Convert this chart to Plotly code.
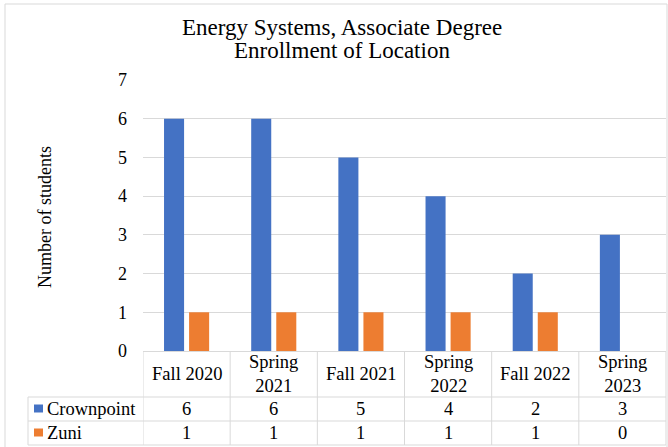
import plotly.graph_objects as go

title_lines = ["Energy Systems, Associate Degree", "Enrollment of Location"]
y_title = "Number of students"
categories = ["Fall 2020", "Spring 2021", "Fall 2021", "Spring 2022", "Fall 2022", "Spring 2023"]
header_labels = ["Fall 2020", "Spring<br>2021", "Fall 2021", "Spring<br>2022", "Fall 2022", "Spring<br>2023"]
series_names = ["Crownpoint", "Zuni"]
crownpoint = [6, 6, 5, 4, 2, 3]
zuni = [1, 1, 1, 1, 1, 0]
colors = ["#4472C4", "#ED7D31"]

W, H = 668, 447
L, R, T, B = 143, 2, 80, 96
PW = W - L - R
PH = H - T - B
FONT = "Times New Roman, Liberation Serif, Times, serif"
GRID = "#d9d9d9"
TXT = "#000000"

def fx(p):
    return (p - L) / PW

def fy(p):
    return (H - B - p) / PH

fig = go.Figure()
series_vals = [crownpoint, zuni]
for name, vals, col in zip(series_names, series_vals, colors):
    fig.add_trace(go.Bar(x=list(range(len(categories))), y=vals, name=name,
                         marker=dict(color=col, line=dict(width=0)),
                         showlegend=False, hoverinfo="skip"))

shapes = []
annotations = []

# chart border
shapes.append(dict(type="rect", xref="paper", yref="paper", x0=fx(5), x1=fx(667), y0=fy(452), y1=fy(4),
                   line=dict(color=GRID, width=1), layer="below"))

# table horizontal lines
for yy in [397, 421, 445]:
    shapes.append(dict(type="line", xref="paper", yref="paper", x0=fx(28), x1=fx(666), y0=fy(yy), y1=fy(yy),
                       line=dict(color=GRID, width=1)))
# left border of series rows
shapes.append(dict(type="line", xref="paper", yref="paper", x0=fx(28), x1=fx(28), y0=fy(397), y1=fy(445),
                   line=dict(color=GRID, width=1)))
# vertical category separators
for i in range(len(categories) + 1):
    shapes.append(dict(type="line", xref="x", yref="paper", x0=i - 0.5, x1=i - 0.5, y0=fy(351), y1=fy(445),
                       line=dict(color=GRID, width=1)))

# title (two lines, tighter spacing)
for line, yc in zip(title_lines, [27.5, 51]):
    annotations.append(dict(x=fx(342), xref="paper", y=fy(yc), yref="paper", text=line, showarrow=False,
                            xanchor="center", yanchor="middle", font=dict(family=FONT, size=23, color=TXT)))

# header text
for i, lab in enumerate(header_labels):
    annotations.append(dict(x=i, xref="x", y=fy(374), yref="paper", text=lab, showarrow=False,
                            font=dict(family=FONT, size=18.5, color=TXT), yanchor="middle"))

# series rows
row_centers = [409, 433]
for name, vals, col, yc in zip(series_names, series_vals, colors, row_centers):
    shapes.append(dict(type="rect", xref="paper", yref="paper", x0=fx(34), x1=fx(43), y0=fy(yc + 3.5), y1=fy(yc - 4.5),
                       fillcolor=col, line=dict(width=0)))
    annotations.append(dict(x=fx(45), xref="paper", y=fy(yc), yref="paper", text=name, showarrow=False,
                            xanchor="left", yanchor="middle", font=dict(family=FONT, size=18.5, color=TXT)))
    for i, v in enumerate(vals):
        annotations.append(dict(x=i, xref="x", y=fy(yc), yref="paper", text=str(v), showarrow=False,
                                yanchor="middle", font=dict(family=FONT, size=18.5, color=TXT)))

# y axis title
annotations.append(dict(x=fx(33), xref="paper", y=fy(217), yref="paper", text=y_title,
                        textangle=-90, showarrow=False, font=dict(family=FONT, size=18, color=TXT)))

fig.update_layout(
    width=W, height=H,
    margin=dict(l=L, r=R, t=T, b=B, autoexpand=False),
    paper_bgcolor="white", plot_bgcolor="white",
    font=dict(family=FONT, color=TXT),
    barmode="group", bargap=0.425, bargroupgap=0.2,
    xaxis=dict(range=[-0.5, len(categories) - 0.5], showticklabels=False, showgrid=False,
               zeroline=False, showline=True, linecolor=GRID, linewidth=1, ticks=""),
    yaxis=dict(range=[0, 7], dtick=1, showgrid=True, gridcolor=GRID, gridwidth=1, zeroline=False,
               showline=False, ticks="", ticklabelstandoff=15,
               tickfont=dict(family=FONT, size=18, color=TXT)),
    shapes=shapes, annotations=annotations,
)

fig.write_html("out.html", config={"displayModeBar": False},
               post_script="document.body.style.margin='0';document.body.style.overflow='hidden';")
